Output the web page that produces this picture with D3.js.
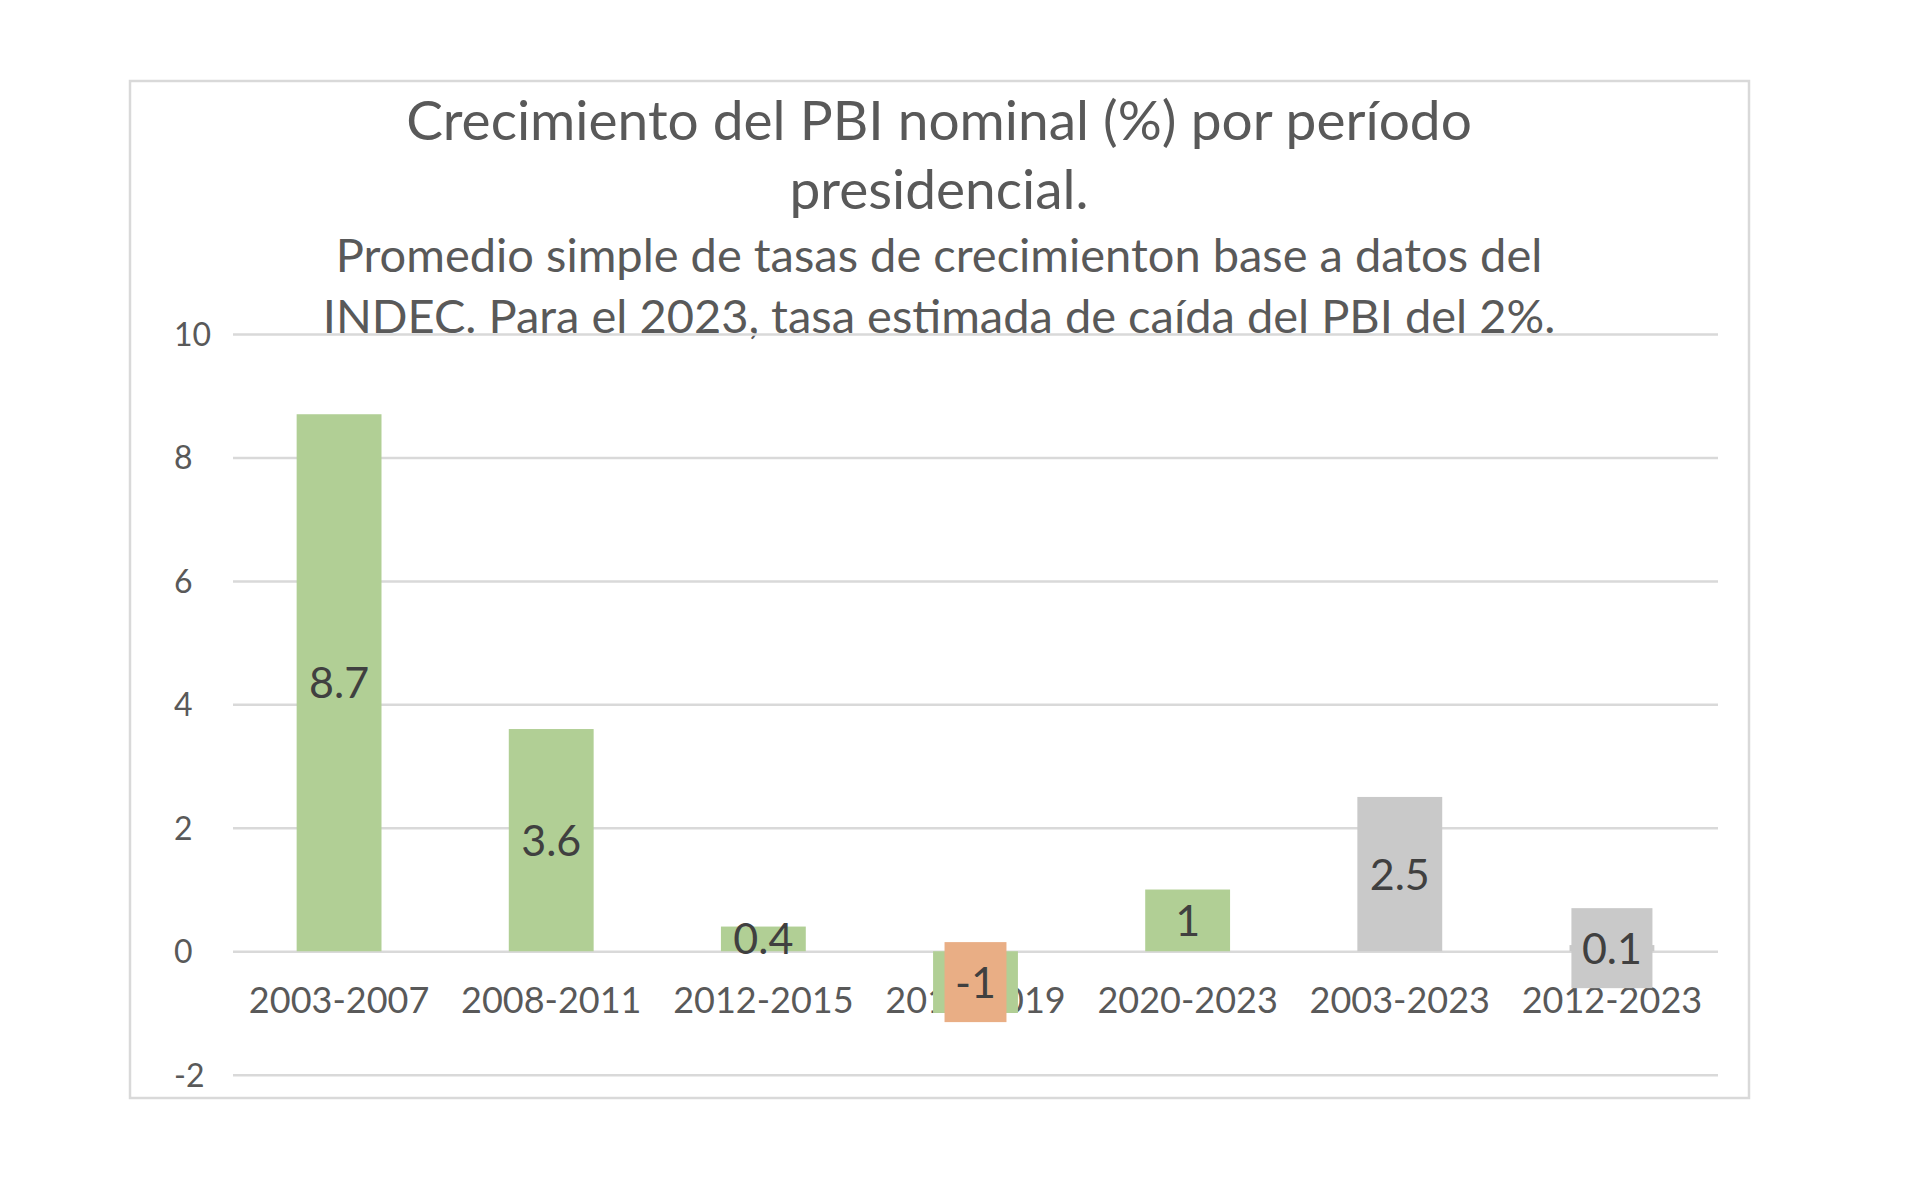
<!DOCTYPE html>
<html><head><meta charset="utf-8">
<script src="https://cdn.jsdelivr.net/npm/d3@7"></script>
<style>
body{margin:0;background:#fff;}
svg text{font-family:Lato,"Open Sans",sans-serif;}
</style>
</head><body>
<svg id="chart" width="1920" height="1197"></svg>
<script>
// ---- data ----
const categories = ["2003-2007","2008-2011","2012-2015","2016-2019","2020-2023","2003-2023","2012-2023"];
const values = [8.7, 3.6, 0.4, -1, 1, 2.5, 0.1];
const yTicks = [-2, 0, 2, 4, 6, 8, 10];
const titleLines = ["Crecimiento del PBI nominal (%) por período", "presidencial."];
const subtitleLines = ["Promedio simple de tasas de crecimienton base a datos del",
                       "INDEC. Para el 2023, tasa estimada de caída del PBI del 2%."];

// ---- styles ----
const barColors = ["#B1CF95","#B1CF95","#B1CF95","#B1CF95","#B1CF95","#C9C9C9","#C9C9C9"];
const labelBg   = [null, null, null, "#E9AE85", null, null, "#C9C9C9"];

const svg = d3.select("#chart");
svg.append("rect").attr("width",1920).attr("height",1197).attr("fill","#fff");

// frame
svg.append("rect").attr("x",130).attr("y",81).attr("width",1619).attr("height",1017)
  .attr("fill","none").attr("stroke","#D9D9D9").attr("stroke-width",2.5);

const x = d3.scaleBand().domain(categories).range([233,1718]).paddingInner(0.6).paddingOuter(0.3);
const y = d3.scaleLinear().domain([-2,10]).range([1074.7,334]);

// titles
const tg = svg.append("g").attr("fill","#595959").attr("text-anchor","middle");
tg.selectAll("text.t").data(titleLines).join("text").attr("class","t")
  .attr("x",939).attr("y",(d,i)=>140+i*69).attr("font-size",55).text(d=>d);
tg.selectAll("text.s").data(subtitleLines).join("text").attr("class","s")
  .attr("x",939).attr("y",(d,i)=>272+i*61).attr("font-size",47).text(d=>d);

// y axis with gridlines
const ya = svg.append("g").attr("transform","translate(233,0)")
  .call(d3.axisLeft(y).tickValues(yTicks).tickFormat(d=>String(d)).tickSize(-1485));
ya.select(".domain").remove();
ya.selectAll(".tick line").attr("stroke","#D9D9D9").attr("stroke-width",2.5);
ya.selectAll(".tick text").attr("x",-59).attr("text-anchor","start").attr("dy","0.36em")
  .attr("font-size",32).attr("fill","#595959").attr("font-family","Lato");

// x axis labels
const xa = svg.append("g").attr("transform",`translate(0,${y(0)})`)
  .call(d3.axisBottom(x).tickSize(0).tickPadding(36));
xa.select(".domain").remove();
xa.selectAll(".tick text").attr("font-size",36).attr("fill","#595959").attr("font-family","Lato");

// bars
svg.append("g").selectAll("rect").data(values).join("rect")
  .attr("x",(d,i)=>x(categories[i]))
  .attr("width",x.bandwidth())
  .attr("y",d=>y(Math.max(0,d)))
  .attr("height",d=>Math.abs(y(d)-y(0)))
  .attr("fill",(d,i)=>barColors[i]);

// data labels
const lg = svg.append("g");
values.forEach((v,i)=>{
  const cx = x(categories[i]) + x.bandwidth()/2;
  const cy = (y(v)+y(0))/2;
  const g = lg.append("g");
  const bg = g.append("rect");
  const t = g.append("text").attr("x",cx).attr("y",cy).attr("dy","0.36em")
    .attr("text-anchor","middle").attr("font-size",43).attr("fill","#404040").text(String(v));
  if (labelBg[i]) {
    const w = t.node().getComputedTextLength() + 21;
    bg.attr("x",cx-w/2).attr("y",cy-40).attr("width",w).attr("height",80).attr("fill",labelBg[i]);
  } else bg.remove();
});
</script>
</body></html>
